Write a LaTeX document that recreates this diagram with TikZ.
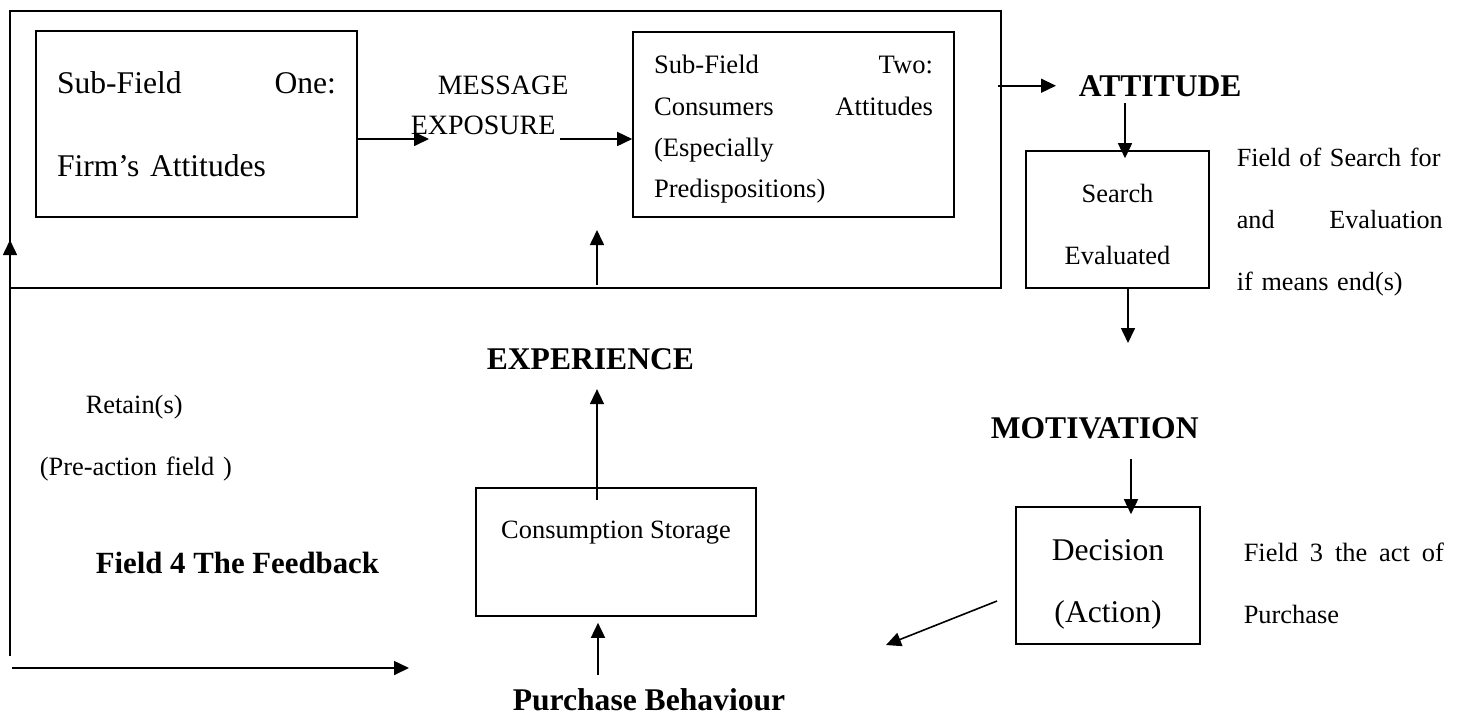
\documentclass[tikz,border=0pt]{standalone}
\usepackage{fontspec}
\setmainfont{Liberation Serif}
\usetikzlibrary{arrows.meta}
\begin{document}
\begin{tikzpicture}[x=0.5pt, y=-0.5pt, thick, >={Triangle[length=7.5pt,width=7pt]},
  field box/.style={rectangle,draw,inner sep=0pt},
  plain text/.style={inner sep=0pt, anchor=base west, text width=100pt, align=left},
  head/.style={font=\fontsize{15.8}{20}\selectfont\bfseries, inner sep=0pt, anchor=base west}]

\useasboundingbox (0,0) rectangle (1461,714);

% boxes
\node[field box, minimum width=495.5pt, minimum height=138.5pt] at (505.5,149.5) (subfields) {};
\node[field box, font=\fontsize{15.8}{41.5}\selectfont, minimum width=160.5pt, minimum height=93pt, text width=139.5pt, align=left] at (196.5,124) (firm) {Sub-Field\hfill One:\\Firm’s Attitudes};
\node[field box, font=\fontsize{13.3}{20.65}\selectfont, minimum width=160.5pt, minimum height=92.5pt, text width=139.5pt, align=left] at (793.5,124.5) (consumer) {\rule{0pt}{14pt}Sub-Field\hfill Two:\\Consumers\hfill Attitudes\\(Especially\\Predispositions)};
\node[field box, font=\fontsize{13.2}{31}\selectfont, minimum width=91.5pt, minimum height=68.5pt, text width=80pt, align=center] at (1117.5,219.5) (search) {\rule{0pt}{14pt}Search\\Evaluated};
\node[field box, font=\fontsize{15.8}{31}\selectfont, minimum width=92pt, minimum height=68.5pt, text width=80pt, align=center] at (1108,575.5) (decision) {\rule{0pt}{19pt}Decision\\(Action)};
\node[field box, font=\fontsize{13.2}{20}\selectfont, minimum width=140pt, text height=25pt, text depth=39pt, anchor=base] at (616,538) (storage) {Consumption Storage};

% labels
\node[plain text, font=\fontsize{14}{20}\selectfont, text width=80pt] at (410,94) (message) {\hspace*{13.5pt}MESSAGE\\EXPOSURE};
\node[head] at (1078,96) (attitude) {ATTITUDE};
\node[head] at (486,369) (experience) {EXPERIENCE};
\node[head] at (990,438) (motivation) {MOTIVATION};
\node[head] at (512,710) (purchase) {Purchase Behaviour};
\node[head, font=\fontsize{15.4}{20}\selectfont\bfseries] at (95,573) (feedback) {Field 4 The Feedback};
\node[plain text, font=\fontsize{13.2}{31}\selectfont] at (39,413) (retain) {\hspace*{23pt}Retain(s)\\(Pre-action field )};
\node[plain text, font=\fontsize{13.1}{31}\selectfont, text width=103pt] at (1236,166) (searchfield) {Field of Search for\\and\hfill Evaluation\\if means end(s)};
\node[plain text, font=\fontsize{13.2}{31}\selectfont] at (1243,561) (actfield) {Field\hfill 3\hfill the\hfill act\hfill of\\Purchase};

% free ends
\coordinate (msgin) at (429,139);
\coordinate (msgout) at (560,139);
\coordinate (fbin) at (597,230);
\coordinate (motin) at (1128,343);
\coordinate (buyout) at (997,601);
\coordinate (buyin) at (886,645);
\coordinate (loopa) at (10,656);
\coordinate (loopb) at (10,240);
\coordinate (loopc) at (12,668);
\coordinate (loopd) at (409,668);

\path[->] (firm.east |- msgin) edge (msgin);
\path[->] (msgout) edge (msgout -| consumer.west);
\path[->] (subfields.east |- attitude.west) edge[shorten <=-2pt, shorten >=11pt] (attitude.west);
\path[->] ([xshift=3.75pt]search.north |- attitude.south) edge[shorten <=3pt, shorten >=-4pt] ([xshift=3.75pt]search.north);
\path[->] (search.south -| motin) edge (motin);
\path[->] ([xshift=11.5pt]decision.north |- motivation.south) edge[shorten <=10pt, shorten >=-4pt] ([xshift=11.5pt]decision.north);
\path[->] (buyout) edge (buyin);
\path[->] ([xshift=-9pt]storage.south |- purchase.north) edge[shorten <=6pt, shorten >=3pt] ([xshift=-9pt]storage.south);
\path[->] ([xshift=-9.5pt]storage.north) edge[shorten <=-6.5pt, shorten >=9.5pt] ([xshift=-9.5pt]storage.north |- experience.south);
\path[->] (subfields.south -| fbin) edge[shorten <=2pt] (fbin);
\path[->] (loopa) edge (loopb);
\path[->] (loopc) edge (loopd);
\end{tikzpicture}
\end{document}
